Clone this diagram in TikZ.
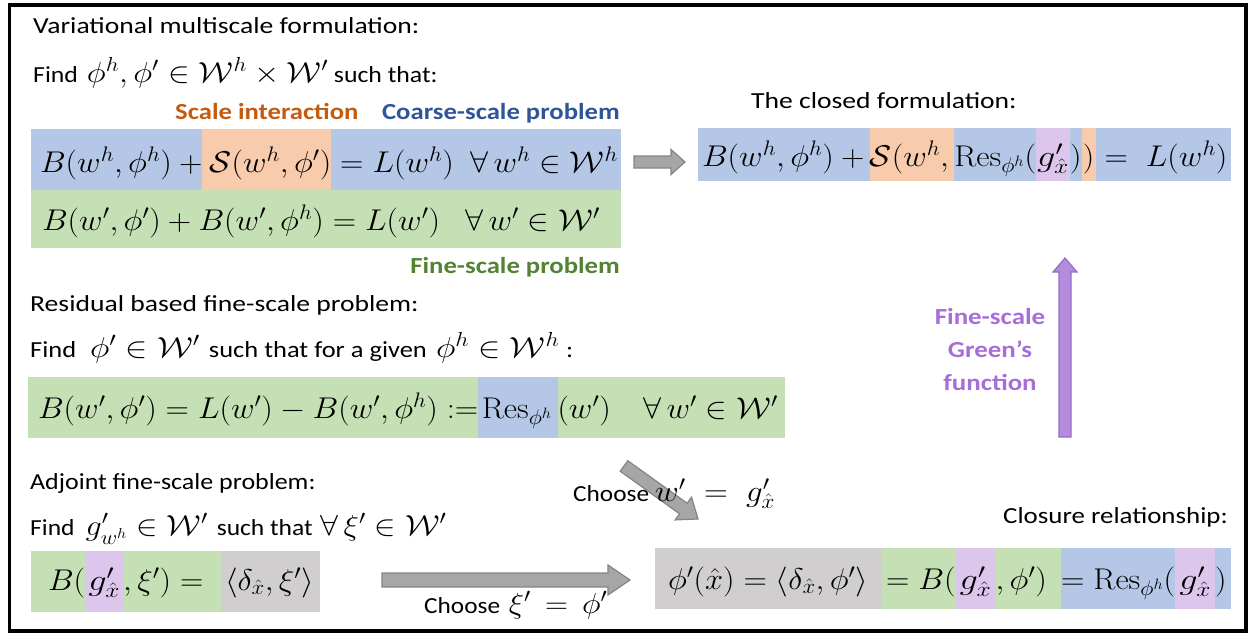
\RequirePackage{fix-cm}
\documentclass[tikz,border=0pt]{standalone}
\usepackage{amsmath}
\usepackage{graphicx}
\usepackage[no-math]{fontspec}
\setmainfont{Carlito}
\usetikzlibrary{calc,backgrounds}
\definecolor{cblue}{HTML}{B4C7E7}
\definecolor{corange}{HTML}{F8CBAD}
\definecolor{cgreen}{HTML}{C5E0B4}
\definecolor{cpurple}{HTML}{DCC6EC}
\definecolor{cgrey}{HTML}{D0CECE}
\definecolor{torange}{HTML}{C55A11}
\definecolor{tblue}{HTML}{2F5597}
\definecolor{tgreen}{HTML}{548235}
\definecolor{tpurple}{HTML}{A66ED6}
\definecolor{apurple}{HTML}{B48CDC}
\definecolor{apurpled}{HTML}{9A68CC}
\definecolor{agrey}{HTML}{A6A6A6}
\definecolor{agreyd}{HTML}{858585}
\newcommand\tf{\fontsize{23}{28}\selectfont}
\newcommand\mf{\fontsize{30}{36}\selectfont}
\newcommand\sm[1]{{\fontsize{29}{32}\selectfont$#1$}}
\newcommand\hx[2]{\scalebox{#1}[1]{#2}}
\newcommand\mbf{1.08}
\newcommand\mb[1]{\scalebox{\mbf}[1]{\mf$#1$}}
\newcommand\gbox[1]{\makebox[#1][c]{\scalebox{1.12}[1]{\mb{g'_{\hat{x}}}}}}
\newcommand\blockarrow[6]{%
  \coordinate (ba-h) at ($(#2)!#5!(#1)$);
  \path[#6] ($(#1)!#3!90:(#2)$) -- ($(ba-h)!#3!90:(#2)$) -- ($(ba-h)!#4!90:(#2)$) -- (#2)
    -- ($(ba-h)!#4!-90:(#2)$) -- ($(ba-h)!#3!-90:(#2)$) -- ($(#1)!#3!-90:(#2)$) -- cycle;}
\tikzset{
  txt/.style={anchor=base west, inner sep=0pt, font=\tf},
  lbl/.style={inner sep=0pt, font=\tf\bfseries},
  seg/.style={anchor=base west, inner sep=0pt, outer sep=0pt},
  greyarrow/.style={fill=agrey, draw=agreyd, line width=1.2pt, line join=miter},
  purparrow/.style={fill=apurple, draw=apurpled, line width=1.2pt, line join=miter}
}
\begin{document}
\begin{tikzpicture}[x=1pt, y=-1pt]
\useasboundingbox (0,0) rectangle (1252,635);
\draw[line width=3.5pt] (9.5,5) rectangle (1246,631);

% ---------- texts ----------
\node[txt] (h1) at (33,33) {\hx{1.2}{Variational multiscale formulation:}};
\node[txt] (f1) at (33,82) {\hx{1.12}{Find\hspace{8pt}\sm{\phi^h,\phi'\in\mathcal{W}^h\times\mathcal{W}'} such that:}};
\node[lbl, text=torange, anchor=base west] (si) at (175,119) {\hx{1.16}{Scale interaction}};
\node[lbl, text=tblue, anchor=base east] (cs) at (620,119) {\hx{1.16}{Coarse-scale problem}};
\node[lbl, text=tgreen, anchor=base east] (fs) at (620,273) {\hx{1.16}{Fine-scale problem}};
\node[txt] (h2) at (30,311) {\hx{1.2}{Residual based fine-scale problem:}};
\node[txt] (f2) at (30,357) {\hx{1.15}{Find\hspace{12pt}\sm{\phi'\in\mathcal{W}'}\hspace{8pt}such that for a given\hspace{8pt}\sm{\phi^h\in\mathcal{W}^h}\hspace{6pt}:}};
\node[txt] (h3) at (30,489) {\hx{1.13}{Adjoint fine-scale problem:}};
\node[txt] (f3) at (30,535) {\hx{1.11}{Find\hspace{10pt}\sm{g'_{w^h}\in\mathcal{W}'}\hspace{8pt}such that\hspace{7pt}\sm{\forall\,\xi'\in\mathcal{W}'}}};
\node[txt] (h4) at (751,108) {\hx{1.2}{The closed formulation:}};
\node[txt, anchor=base east] (h5) at (1228,523) {\hx{1.17}{Closure relationship:}};
\node[txt] (c1) at (573,501) {\hx{1.1}{Choose \mf$w'\;=\;g'_{\hat{x}}$}};
\node[txt] (c2) at (424,613) {\hx{1.1}{Choose\hspace{8pt}\sm{\xi'\,=\,\phi'}}};
\node[font=\fontsize{23}{33}\selectfont\bfseries, text=tpurple, align=center, inner sep=0pt] (gf) at (990,350) {\hx{1.17}{Fine-scale}\\\hx{1.17}{Green’s}\\\hx{1.17}{function}};

% ---------- top-left bands ----------
\node[seg, text height=43pt, text depth=18pt] (tl1) at (40,172) {\mb{B(w^h,\phi^h)\mskip\medmuskip+}};
\node[seg, text height=43pt, text depth=18pt] (tl2) at (tl1.base east) {\mb{\mskip\medmuskip\mathcal{S}(w^h,\phi')}};
\node[seg, text height=43pt, text depth=18pt] (tl3) at (tl2.base east) {\mb{\mskip\thickmuskip=L(w^h)\enspace\forall\,w^h\in\mathcal{W}^h}};
\node[seg, text height=40pt, text depth=18pt] (tg) at (42,230) {\mb{B(w',\phi')+B(w',\phi^h)=L(w')\enspace\;\forall\,w'\in\mathcal{W}'}};

% ---------- residual band ----------
\node[seg, text height=41pt, text depth=20pt] (rs1) at (38,418) {\mb{B(w',\phi')=L(w')-B(w',\phi^h):=}};
\node[seg, text height=41pt, text depth=20pt] (rs2) at (rs1.base east) {\mb{\mskip2mu\mathrm{Res}_{\phi^h}\mskip3mu}};
\node[seg, text height=41pt, text depth=20pt] (rs3) at (rs2.base east) {\mb{(w')\quad\forall\,w'\in\mathcal{W}'}};

% ---------- small adjoint band ----------
\node[seg, text height=39pt, text depth=22pt] (sb1) at (48,590) {\mb{B(}};
\node[seg, text height=39pt, text depth=22pt] (sb2) at (sb1.base east) {\gbox{38pt}};
\node[seg, text height=39pt, text depth=22pt] (sb3) at (sb2.base east) {\mb{,\xi')=\mskip\thickmuskip\mskip5mu}};
\node[seg, text height=39pt, text depth=22pt] (sb4) at (sb3.base east) {\mb{\mskip2mu\langle\delta_{\hat{x}},\xi'\rangle}};

% ---------- top-right band ----------
\node[seg, text height=38pt, text depth=15pt] (tr1) at (702,166) {\mb{B(w^h,\phi^h)\mskip\medmuskip+\mskip3mu}};
\node[seg, text height=38pt, text depth=15pt] (tr2) at (tr1.base east) {\mb{\mathcal{S}(w^h,\mskip\thinmuskip}};
\node[seg, text height=38pt, text depth=15pt] (tr3) at (tr2.base east) {\mb{\mathrm{Res}_{\phi^h}(}};
\node[seg, text height=38pt, text depth=15pt] (tr4) at (tr3.base east) {\gbox{34pt}};
\node[seg, text height=38pt, text depth=15pt] (tr5) at (tr4.base east) {\mb{)}};
\node[seg, text height=38pt, text depth=15pt, minimum width=14pt] (tr6) at (tr5.base east) {\mb{)}};
\node[seg, text height=38pt, text depth=15pt] (tr7) at (tr6.base east) {\mb{\mskip\thickmuskip=\;L(w^h)}};

% ---------- bottom-right band ----------
\node[seg, text height=41pt, text depth=20pt] (b1) at (668,589) {\mb{\phi'(\hat{x})=\langle\delta_{\hat{x}},\phi'\rangle\mskip\thickmuskip\mskip3mu}};
\node[seg, text height=41pt, text depth=20pt] (b2) at (b1.base east) {\mb{\mskip2mu=B(}};
\node[seg, text height=41pt, text depth=20pt] (b3) at (b2.base east) {\gbox{40pt}};
\node[seg, text height=41pt, text depth=20pt] (b4) at (b3.base east) {\mb{,\phi')\mskip\thickmuskip\mskip3mu}};
\node[seg, text height=41pt, text depth=20pt] (b5) at (b4.base east) {\mb{=\mathrm{Res}_{\phi^h}(}};
\node[seg, text height=41pt, text depth=20pt] (b6) at (b5.base east) {\gbox{40pt}};
\node[seg, text height=41pt, text depth=20pt] (b7) at (b6.base east) {\mb{)}};

% ---------- arrows ----------
\coordinate (a1s) at (634,162);
\coordinate (a1e) at (685,162);
\blockarrow{a1s}{a1e}{6pt}{12.5pt}{14pt}{greyarrow}
\coordinate (a2s) at (382,580);
\coordinate (a2e) at (630,580);
\blockarrow{a2s}{a2e}{7pt}{15pt}{22pt}{greyarrow}
\coordinate (a4s) at (1065,437);
\coordinate (a4e) at (1065,258);
\blockarrow{a4s}{a4e}{6pt}{12pt}{14pt}{purparrow}

\begin{pgfonlayer}{background}
  % top-left
  \fill[cblue] (31,129) rectangle (621,190);
  \fill[corange] (tl2.north west) rectangle (tl2.south east);
  \fill[cgreen] (31,190) rectangle (621,248);
  % residual
  \fill[cgreen] (28,377) rectangle (785,438);
  \fill[cblue] (rs2.north west) rectangle (rs2.south east);
  % small
  \fill[cgreen] (31,551) rectangle (320,612);
  \fill[cpurple] (sb2.north west) rectangle (sb2.south east);
  \fill[cgrey] (sb4.north west) rectangle (320,612);
  % top-right
  \fill[cblue] (698,128) rectangle (1231,181);
  \fill[corange] (tr2.north west) rectangle (tr2.south east);
  \fill[cpurple] (tr4.north west) rectangle (tr4.south east);
  \fill[corange] (tr6.north west) rectangle (tr6.south east);
  % bottom-right
  \fill[cgrey] (655,548) rectangle (b1.south east);
  \fill[cgreen] (b2.north west) rectangle (b4.south east);
  \fill[cpurple] (b3.north west) rectangle (b3.south east);
  \fill[cblue] (b5.north west) rectangle (1231,609);
  \fill[cpurple] (b6.north west) rectangle (b6.south east);
  % diagonal arrow (behind the text)
  \coordinate (a3s) at (624,466);
  \coordinate (a3e) at (698,519);
  \blockarrow{a3s}{a3e}{6.5pt}{14pt}{18pt}{greyarrow}
\end{pgfonlayer}
\end{tikzpicture}
\end{document}
